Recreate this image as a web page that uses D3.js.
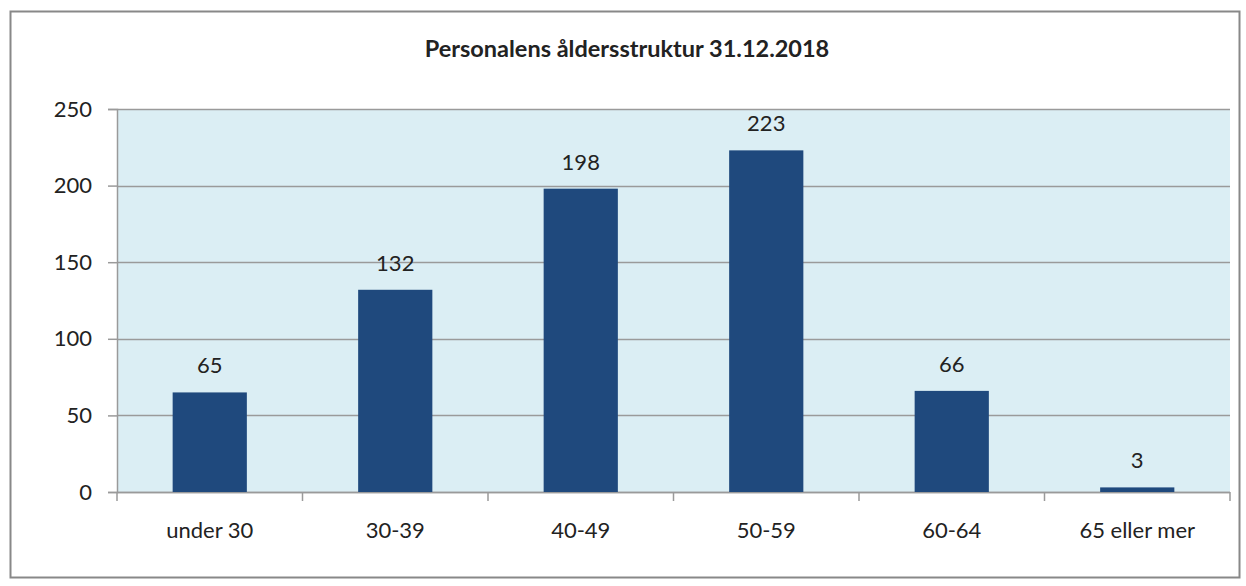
<!DOCTYPE html>
<html>
<head>
<meta charset="utf-8">
<script src="https://cdn.jsdelivr.net/npm/d3@7"></script>
<style>
  body { margin: 0; background: #fff; }
  svg text { font-family: Lato, "Open Sans", sans-serif; fill: #222; }
</style>
</head>
<body>
<script>
// Personalens åldersstruktur 31.12.2018
var categories = ['under 30', '30-39', '40-49', '50-59', '60-64', '65 eller mer'];
var values = [65, 132, 198, 223, 66, 3];
var yTicks = [0, 50, 100, 150, 200, 250];

var W = 1246, H = 586;
//plot area
var margin = {top: 109, right: 16, bottom: 94, left: 117},
    width = W - margin.left - margin.right,
    height = H - margin.top - margin.bottom;

var svg = d3.select("body").append("svg")
    .attr("width", W)
    .attr("height", H);

// outer frame
svg.append("rect")
    .attr("x", 10.5).attr("y", 11.5)
    .attr("width", 1229).attr("height", 566)
    .attr("fill", "#fff")
    .attr("stroke", "#888").attr("stroke-width", 2);

svg.append("text")
    .attr("x", 627).attr("y", 57)
    .attr("text-anchor", "middle")
    .style("font-size", "23.5px").style("font-weight", "bold")
    .attr("fill", "#000")
    .text("Personalens åldersstruktur 31.12.2018");

var g = svg.append("g")
    .attr("transform", "translate(" + margin.left + "," + margin.top + ")");

var x = d3.scaleBand()
    .domain(categories)
    .range([0, width])
    .paddingInner(0.6)
    .paddingOuter(0.3);

var y = d3.scaleLinear()
    .domain([0, 250])
    .range([height, 0]);

// plot background
g.append("rect")
    .attr("width", width).attr("height", height)
    .attr("fill", "#dbeef4");

// gridlines
g.selectAll(".grid")
    .data(yTicks)
    .enter().append("line")
    .attr("x1", 0).attr("x2", width)
    .attr("y1", function(d) { return Math.round(y(d)) + 0.5; })
    .attr("y2", function(d) { return Math.round(y(d)) + 0.5; })
    .attr("stroke", "#9a9a9a").attr("stroke-width", 1.5);

// y axis
var yAxis = d3.axisLeft(y).tickValues(yTicks).tickSize(9).tickPadding(16);
var ya = g.append("g").call(yAxis);
ya.select(".domain").attr("stroke", "#9a9a9a").attr("stroke-width", 1.5);
ya.selectAll(".tick line").attr("stroke", "#9a9a9a").attr("stroke-width", 1.5);
ya.selectAll("text").style("font-size", "22px").attr("fill", "#222");

// x axis: ticks on band boundaries
var xa = g.append("g").attr("transform", "translate(0," + height + ")");
var bounds = d3.range(categories.length + 1).map(function(i) { return i * width / categories.length; });
xa.append("line").attr("x1", 0).attr("x2", width).attr("y1", 0.5).attr("y2", 0.5)
    .attr("stroke", "#9a9a9a").attr("stroke-width", 1.5);
xa.selectAll(".xt")
    .data(bounds)
    .enter().append("line")
    .attr("x1", function(d) { return d; }).attr("x2", function(d) { return d; })
    .attr("y1", 0).attr("y2", 9)
    .attr("stroke", "#9a9a9a").attr("stroke-width", 1.5);
xa.selectAll(".xl")
    .data(categories)
    .enter().append("text")
    .attr("x", function(d) { return x(d) + x.bandwidth() / 2; })
    .attr("y", 46)
    .attr("text-anchor", "middle")
    .style("font-size", "22px")
    .text(function(d) { return d; });

// bars
g.selectAll(".bar")
    .data(values)
    .enter().append("rect")
    .attr("x", function(d, i) { return x(categories[i]); })
    .attr("width", x.bandwidth())
    .attr("y", function(d) { return y(d); })
    .attr("height", function(d) { return height - y(d); })
    .attr("fill", "#1f497d");

// data labels
g.selectAll(".lbl")
    .data(values)
    .enter().append("text")
    .attr("x", function(d, i) { return x(categories[i]) + x.bandwidth() / 2; })
    .attr("y", function(d) { return y(d) - 19; })
    .attr("text-anchor", "middle")
    .style("font-size", "22px")
    .text(function(d) { return d; });
</script>
</body>
</html>
